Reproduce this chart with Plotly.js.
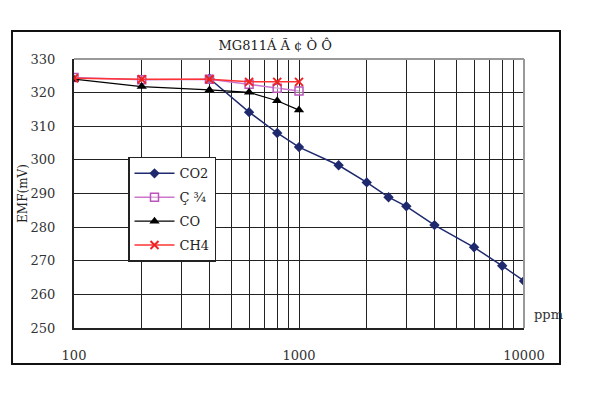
<!DOCTYPE html>
<html><head><meta charset="utf-8">
<script src="https://cdn.plot.ly/plotly-3.0.1.min.js"></script>
<style>html,body{margin:0;padding:0;background:#fff}#c{width:592px;height:398px}</style>
</head><body><div id="c"></div>
<script>
const titleText = "MG811Á Ã ¢ Ò Ô";
const seriesNames = ["CO2", "Ç ¾", "CO", "CH4"];
const co2X = [400, 600, 800, 1000, 1500, 2000, 2500, 3000, 4000, 6000, 8000, 10000];
const co2Y = [324.2, 314.2, 308, 303.8, 298.4, 293.3, 288.9, 286.2, 280.6, 274, 268.5, 264];
const h2X = [100, 200, 400, 600, 800, 1000];
const h2Y = [324.5, 323.8, 324, 322.5, 321.3, 320.5];
const coX = [100, 200, 400, 600, 800, 1000];
const coY = [324, 321.8, 320.8, 320.1, 317.6, 314.8];
const ch4X = [100, 200, 400, 600, 800, 1000];
const ch4Y = [324.3, 324, 324, 323.2, 323.2, 323.2];
const xTickVals = [100,200,300,400,500,600,700,800,900,1000,2000,3000,4000,5000,6000,7000,8000,9000,10000];
const xTickText = xTickVals.map(v => (v===100||v===1000||v===10000) ? String(v) : "");

const F = "DejaVu Serif, Liberation Serif, serif";
const traces = [
  {x: co2X, y: co2Y, name: seriesNames[0], legendgroup: "a", mode: "lines+markers",
   line: {color: "#1f2a6e", width: 1.5}, marker: {symbol: "diamond", size: 8, color: "#1f2a6e"}},
  {x: h2X, y: h2Y, name: seriesNames[1], legendgroup: "b", mode: "lines+markers",
   line: {color: "#cc77cc", width: 1.5}, marker: {symbol: "square", size: 8, color: "rgba(255,255,255,0.4)", line: {color: "#bb55bb", width: 1.5}}},
  {x: coX, y: coY, name: seriesNames[2], legendgroup: "c", mode: "lines+markers",
   line: {color: "#000000", width: 1.2}, marker: {symbol: "triangle-up", size: 9, color: "#000000"}},
  {x: ch4X, y: ch4Y, name: seriesNames[3], legendgroup: "d", mode: "lines+markers",
   line: {color: "#ff3333", width: 1.5}, marker: {symbol: "x-thin", size: 8, line: {color: "#ee2222", width: 2}}}
];
const layout = {
  width: 592, height: 398,
  margin: {l: 74, r: 68, t: 59, b: 70},
  paper_bgcolor: "#fff", plot_bgcolor: "#fff",
  font: {family: F, size: 13, color: "#222"},
  showlegend: true,
  title: {text: titleText, font: {family: F, size: 13, color: "#222"}, x: 0.465, xanchor: "center", y: 0.885, yanchor: "middle"},
  xaxis: {type: "log", range: [2, 4], tickvals: xTickVals, ticktext: xTickText,
    showgrid: true, gridcolor: "#222", gridwidth: 1, showline: true, linecolor: "#222", linewidth: 2,
    ticks: "outside", ticklen: 14, tickcolor: "rgba(0,0,0,0)", zeroline: false,
    tickfont: {family: F, size: 13, color: "#333"}},
  yaxis: {range: [250, 330], dtick: 10, showgrid: true, gridcolor: "#222", gridwidth: 1,
    showline: true, linecolor: "#222", linewidth: 2, zeroline: false,
    ticks: "outside", ticklen: 14, tickcolor: "rgba(0,0,0,0)",
    tickfont: {family: F, size: 13, color: "#333"},
    title: {text: "EMF(mV)", font: {family: F, size: 12, color: "#222"}, standoff: 0}},
  legend: {x: 0.12, y: 0.636, xanchor: "left", yanchor: "top", bgcolor: "#fff",
    bordercolor: "#222", borderwidth: 1.5, font: {family: F, size: 13, color: "#222"},
    tracegroupgap: 4, itemwidth: 40},
  shapes: [
    {type: "rect", xref: "paper", yref: "paper", x0: -0.1378, x1: 1.08, y0: -0.1338, y1: 1.104,
     line: {color: "#111", width: 2}, fillcolor: "rgba(0,0,0,0)", layer: "below"},
    {type: "line", xref: "paper", yref: "paper", x0: 0, x1: 1, y0: 1, y1: 1, line: {color: "#999", width: 2}},
    {type: "line", xref: "paper", yref: "paper", x0: 1, x1: 1, y0: 0, y1: 1, line: {color: "#999", width: 2}}
  ],
  annotations: [
    {text: "ppm", xref: "paper", yref: "paper", x: 1.0178, y: 0.052, xanchor: "left", yanchor: "middle",
     showarrow: false, font: {family: F, size: 13, color: "#333"}}
  ]
};
Plotly.newPlot("c", traces, layout, {displayModeBar: false, staticPlot: true});
</script></body></html>
